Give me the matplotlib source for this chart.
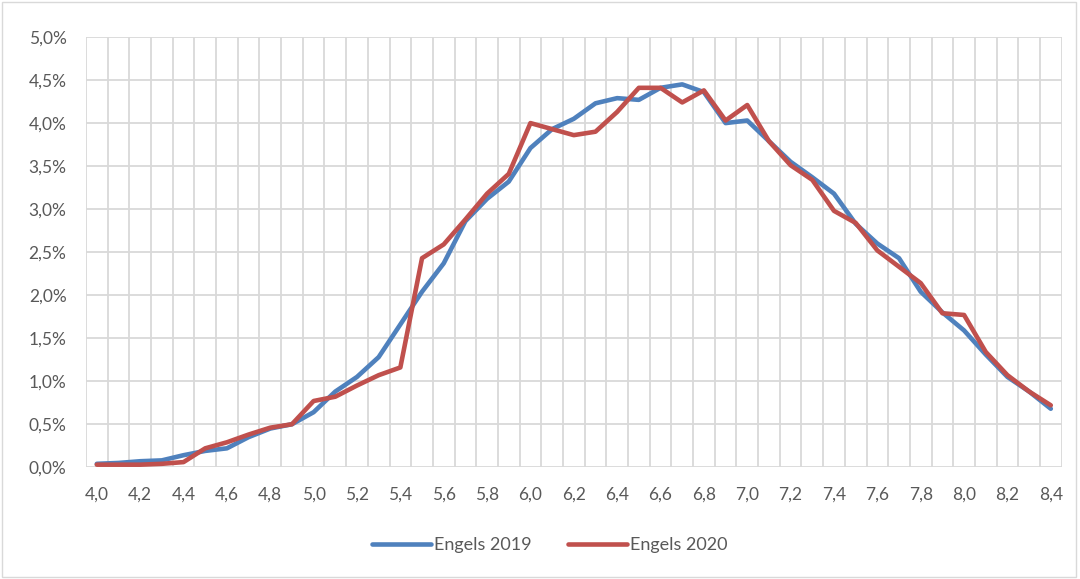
import matplotlib.pyplot as plt
from matplotlib.ticker import FixedLocator, FuncFormatter
from matplotlib.patches import Rectangle

# grade categories 4,0 .. 8,4
grades = [round(4.0 + 0.1 * i, 1) for i in range(45)]

# share of students per grade (%)
engels_2019 = [0.04, 0.05, 0.07, 0.08, 0.14, 0.19, 0.22, 0.35, 0.45, 0.50,
               0.64, 0.88, 1.05, 1.28, 1.66, 2.04, 2.37, 2.86, 3.12, 3.32,
               3.71, 3.93, 4.05, 4.23, 4.29, 4.27, 4.41, 4.45, 4.36, 4.00,
               4.03, 3.79, 3.55, 3.37, 3.18, 2.83, 2.60, 2.43, 2.04, 1.80,
               1.59, 1.31, 1.05, 0.88, 0.68]
engels_2020 = [0.03, 0.03, 0.03, 0.04, 0.06, 0.22, 0.29, 0.38, 0.46, 0.50,
               0.77, 0.82, 0.95, 1.07, 1.16, 2.43, 2.59, 2.88, 3.18, 3.41,
               4.00, 3.93, 3.86, 3.90, 4.13, 4.41, 4.41, 4.24, 4.38, 4.03,
               4.21, 3.79, 3.51, 3.34, 2.98, 2.84, 2.52, 2.33, 2.14, 1.79,
               1.77, 1.34, 1.07, 0.88, 0.72]

plt.rcParams['font.family'] = ['Lato', 'DejaVu Sans']
txt = '#595959'
grid_c = '#D9D9D9'

fig = plt.figure(figsize=(10.8, 5.79), dpi=100)
ax = fig.add_axes([0.0796, 0.193, 0.9034, 0.743])

x = list(range(len(grades)))
ax.plot(x, engels_2019, color='#4F81BD', lw=3.3, label='Engels 2019', solid_capstyle='round')
ax.plot(x, engels_2020, color='#C0504D', lw=3.3, label='Engels 2020', solid_capstyle='round')

ax.set_xlim(-0.5, len(grades) - 0.5)
ax.set_ylim(0, 5.0)

ax.xaxis.set_major_locator(FixedLocator(x[::2]))
ax.set_xticklabels([f'{g:.1f}'.replace('.', ',') for g in grades[::2]])
ax.xaxis.set_minor_locator(FixedLocator([i - 0.5 for i in range(len(grades) + 1)]))
ax.yaxis.set_major_locator(FixedLocator([i * 0.5 for i in range(11)]))
ax.yaxis.set_major_formatter(FuncFormatter(lambda v, p: f'{v:.1f}%'.replace('.', ',')))

ax.grid(False)
ax.grid(True, which='minor', axis='x', color=grid_c, lw=1.3)
ax.grid(True, which='major', axis='y', color=grid_c, lw=1.3)
ax.set_axisbelow(True)
for s in ax.spines.values():
    s.set_visible(False)
ax.tick_params(axis='both', which='both', length=0, colors=txt, labelsize=12.5)
ax.tick_params(axis='x', pad=14)
ax.tick_params(axis='y', pad=14)

fig.legend(loc='center', bbox_to_anchor=(0.509, 0.058), ncol=2, frameon=False,
           handlelength=3.3, columnspacing=2.0, handletextpad=0.15,
           labelcolor=txt, fontsize=13)

fig.patches.append(Rectangle((0.002, 0.003), 0.994, 0.993, transform=fig.transFigure,
                             fill=False, edgecolor=grid_c, lw=1))

fig.savefig('out.png', dpi=100)
